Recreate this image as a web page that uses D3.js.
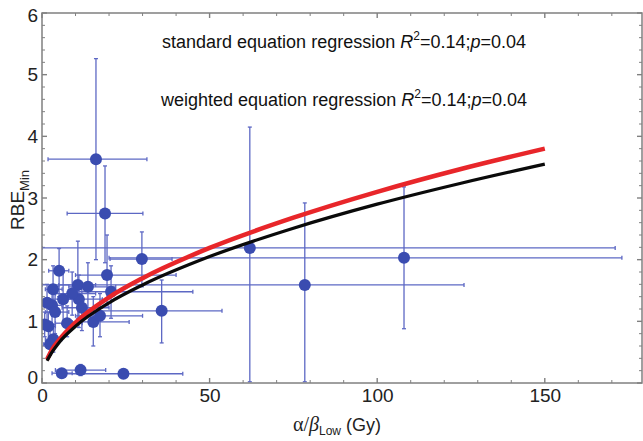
<!DOCTYPE html>
<html>
<head>
<meta charset="utf-8">
<script src="https://cdn.jsdelivr.net/npm/d3@7/dist/d3.min.js"></script>
<style>
  html, body { margin: 0; padding: 0; background: #fff; }
  svg { display: block; font-family: "Liberation Sans", Arial, sans-serif; }
</style>
</head>
<body>
<svg id="chart" width="643" height="441"></svg>
<script>
// Measured RBE_min against alpha/beta of the low-LET reference, with 95% ranges
const pointX    = [16.1, 18.8, 62.0, 78.4, 108.0, 29.8, 35.7, 24.3, 11.5, 5.9,
                   5.1, 3.3, 10.7, 13.7, 20.6, 19.4, 6.3, 3.0, 11.0, 3.9,
                   11.9, 1.9, 7.5, 15.3, 17.3, 3.4, 2.4, 1.5, 9.0, 0.8];
const pointY    = [3.63, 2.75, 2.19, 1.59, 2.03, 2.01, 1.17, 0.15, 0.21, 0.16,
                   1.82, 1.52, 1.59, 1.56, 1.48, 1.75, 1.36, 1.26, 1.36, 1.15,
                   1.22, 0.92, 0.97, 0.99, 1.09, 0.71, 0.63, 1.30, 1.45, 0.95];
const xLow      = [1.8, 7.5, 0.0, 0.0, 20.0, 20.3, 17.0, 5.0, 4.0, 3.0,
                   2.0, 1.0, 5.0, 8.0, 8.0, 10.0, 2.0, 0.5, 6.0, 1.0,
                   6.0, 0.5, 4.0, 9.0, 10.0, 1.0, 0.5, 0.5, 4.0, 0.2];
const xHigh     = [31.3, 30.1, 171.0, 125.9, 173.0, 38.8, 53.7, 42.0, 19.0, 9.0,
                   8.0, 6.0, 16.0, 22.0, 45.0, 40.0, 12.0, 6.0, 18.0, 8.0,
                   20.0, 4.0, 12.0, 26.0, 30.0, 6.0, 4.0, 3.0, 16.0, 2.0];
const yLow      = [2.00, 1.95, 0.02, 0.02, 0.88, 1.56, 0.65, 0.10, 0.12, 0.10,
                   1.40, 1.10, 1.05, 1.15, 1.05, 1.25, 0.95, 0.95, 0.90, 0.80,
                   0.85, 0.70, 0.75, 0.60, 0.75, 0.50, 0.45, 1.00, 1.10, 0.75];
const yHigh     = [5.26, 3.52, 4.15, 2.92, 3.18, 2.45, 1.67, 0.22, 0.30, 0.22,
                   2.18, 1.90, 2.30, 1.95, 1.90, 2.40, 1.80, 1.55, 1.75, 1.45,
                   1.60, 1.15, 1.25, 1.40, 1.45, 0.95, 0.85, 1.60, 1.80, 1.15];

// Regression curves read at a handful of alpha/beta values
const curveX        = [1.5, 3, 5, 10, 20, 30, 50, 75, 100, 125, 150];
const standardFitY  = [0.36, 0.50, 0.65, 0.92, 1.30, 1.59, 2.05, 2.51, 2.90, 3.24, 3.55];
const weightedFitY  = [0.38, 0.54, 0.69, 0.98, 1.39, 1.70, 2.19, 2.68, 3.10, 3.47, 3.80];

// Axis ticks
const xMajorTicks = [0, 50, 100, 150];
const yMajorTicks = [0, 1, 2, 3, 4, 5, 6];
const xMinorTicks = d3.range(0, 180, 10);
const yMinorTicks = d3.range(0, 6.01, 0.2);

(function draw() {
const svg = d3.select("#chart");
const pl = 42, pr = 642, pt = 13, pb = 383;

const x = d3.scaleLinear().domain([0, 179]).range([pl, pr]);
const y = d3.scaleLinear().domain([0, 6]).range([pb, pt]);

svg.append("defs").append("clipPath").attr("id", "clip")
  .append("rect").attr("x", pl).attr("y", pt)
  .attr("width", pr - pl).attr("height", pb - pt);
const plot = svg.append("g");

const axisColor = "#808080";

// Ticks on all four sides, pointing inward
function xTickMarks(values, len, major) {
  values.forEach(v => {
    const px = x(v);
    plot.append("line").attr("x1", px).attr("x2", px).attr("y1", pb).attr("y2", pb - len)
      .attr("stroke", axisColor).attr("stroke-width", major ? 1.4 : 1);
    plot.append("line").attr("x1", px).attr("x2", px).attr("y1", pt).attr("y2", pt + len)
      .attr("stroke", axisColor).attr("stroke-width", major ? 1.4 : 1);
  });
}
function yTickMarks(values, len, major) {
  values.forEach(v => {
    const py = y(v);
    plot.append("line").attr("x1", pl).attr("x2", pl + len).attr("y1", py).attr("y2", py)
      .attr("stroke", axisColor).attr("stroke-width", major ? 1.4 : 1);
    plot.append("line").attr("x1", pr).attr("x2", pr - len).attr("y1", py).attr("y2", py)
      .attr("stroke", axisColor).attr("stroke-width", major ? 1.4 : 1);
  });
}
xTickMarks(xMinorTicks.filter(v => !xMajorTicks.includes(v)), 3, false);
xTickMarks(xMajorTicks, 5, true);
yTickMarks(yMinorTicks.filter(v => Math.abs(v - Math.round(v)) > 1e-6), 3, false);
yTickMarks(yMajorTicks, 5, true);

// Tick labels
const xAxis = d3.axisBottom(x).tickValues(xMajorTicks).tickFormat(d3.format("d"))
  .tickSize(0).tickPadding(6);
const gx = svg.append("g").attr("transform", `translate(0,${pb})`).call(xAxis);
gx.select(".domain").remove();
gx.selectAll("text").attr("font-size", 19).attr("fill", "#222")
  .attr("font-family", "'Liberation Sans', Arial, sans-serif");

const yAxis = d3.axisLeft(y).tickValues(yMajorTicks).tickFormat(d3.format("d"))
  .tickSize(0).tickPadding(4);
const gy = svg.append("g").attr("transform", `translate(${pl},0)`).call(yAxis);
gy.select(".domain").remove();
gy.selectAll("text").attr("font-size", 19).attr("fill", "#222")
  .attr("font-family", "'Liberation Sans', Arial, sans-serif");
gy.selectAll(".tick").filter(d => d === 0).select("text").attr("dy", "0.05em");
gy.selectAll(".tick").filter(d => d === 6).select("text").attr("dy", "0.45em");

// Error bars and points
const data = pointX.map((v, i) => ({
  x: v, y: pointY[i], xl: xLow[i], xh: xHigh[i], yl: yLow[i], yh: yHigh[i]
}));
const barColor = "#5d68c4";
const bars = svg.append("g").attr("clip-path", "url(#clip)")
  .attr("stroke", barColor).attr("stroke-width", 1.3).attr("fill", "none");
const cap = 2;
data.forEach(d => {
  bars.append("line").attr("x1", x(d.xl)).attr("x2", x(d.xh)).attr("y1", y(d.y)).attr("y2", y(d.y));
  bars.append("line").attr("x1", x(d.x)).attr("x2", x(d.x)).attr("y1", y(d.yl)).attr("y2", y(d.yh));
  bars.append("line").attr("x1", x(d.xl)).attr("x2", x(d.xl)).attr("y1", y(d.y) - cap).attr("y2", y(d.y) + cap);
  bars.append("line").attr("x1", x(d.xh)).attr("x2", x(d.xh)).attr("y1", y(d.y) - cap).attr("y2", y(d.y) + cap);
  bars.append("line").attr("x1", x(d.x) - cap).attr("x2", x(d.x) + cap).attr("y1", y(d.yl)).attr("y2", y(d.yl));
  bars.append("line").attr("x1", x(d.x) - cap).attr("x2", x(d.x) + cap).attr("y1", y(d.yh)).attr("y2", y(d.yh));
});

svg.append("g").attr("clip-path", "url(#clip)").selectAll("circle").data(data).join("circle")
  .attr("cx", d => x(d.x)).attr("cy", d => y(d.y)).attr("r", 6)
  .attr("fill", "#3a4cb0");

// Regression curves
const line = d3.line().x(d => x(d[0])).y(d => y(d[1])).curve(d3.curveMonotoneX);
svg.append("path").datum(curveX.map((v, i) => [v, weightedFitY[i]]))
  .attr("d", line).attr("fill", "none").attr("stroke", "#e8262a").attr("stroke-width", 4.5);
svg.append("path").datum(curveX.map((v, i) => [v, standardFitY[i]]))
  .attr("d", line).attr("fill", "none").attr("stroke", "#0a0a0a").attr("stroke-width", 3.2);

// Frame
svg.append("rect").attr("x", pl).attr("y", pt)
  .attr("width", pr - pl).attr("height", pb - pt)
  .attr("fill", "none").attr("stroke", axisColor).attr("stroke-width", 1.5);

// Annotations
function annotation(yPos, label) {
  const t = svg.append("text").attr("x", 344).attr("y", yPos).attr("text-anchor", "middle")
    .attr("font-size", 18).attr("fill", "#111");
  t.append("tspan").text(label + " ");
  t.append("tspan").attr("font-style", "italic").text("R");
  t.append("tspan").attr("font-size", 12).attr("dy", -8).text("2");
  t.append("tspan").attr("dy", 8).text("=0.14;");
  t.append("tspan").attr("font-style", "italic").text("p");
  t.append("tspan").text("=0.04");
}
annotation(48, "standard equation regression");
annotation(106, "weighted equation regression");

// Axis titles
const xt = svg.append("text").attr("x", 337).attr("y", 431).attr("text-anchor", "middle")
  .attr("font-size", 18).attr("fill", "#222");
xt.append("tspan").attr("font-family", "'Liberation Serif', serif").attr("font-size", 20).text("α");
xt.append("tspan").attr("font-family", "'Liberation Serif', serif").attr("font-size", 20).text("/");
xt.append("tspan").attr("font-family", "'Liberation Serif', serif").attr("font-style", "italic").attr("font-size", 20).text("β");
xt.append("tspan").attr("font-size", 12).attr("dy", 4).text("Low");
xt.append("tspan").attr("dy", -4).text(" (Gy)");

const yt = svg.append("text").attr("transform", "translate(24,200) rotate(-90)")
  .attr("text-anchor", "middle").attr("font-size", 19).attr("fill", "#222");
yt.append("tspan").text("RBE");
yt.append("tspan").attr("font-size", 13).attr("dy", 5).text("Min");
})();
</script>
</body>
</html>
